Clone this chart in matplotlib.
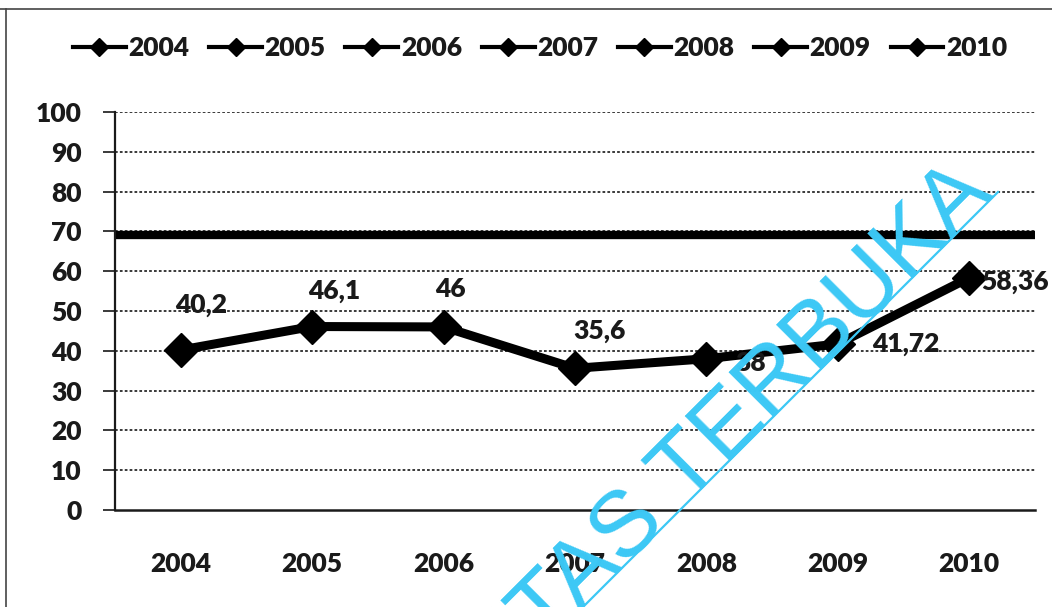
import matplotlib
matplotlib.use("Agg")
import matplotlib.pyplot as plt
from matplotlib.lines import Line2D

# Data
years = ["2004", "2005", "2006", "2007", "2008", "2009", "2010"]
values = [40.2, 46.1, 46.0, 35.6, 38.0, 41.72, 58.36]
target = 69
y_ticks = [0, 10, 20, 30, 40, 50, 60, 70, 80, 90, 100]

W, H, DPI = 1052, 607, 100
fig = plt.figure(figsize=(W / DPI, H / DPI), dpi=DPI)
fig.patch.set_facecolor("white")

FONT = "Lato"
ax = fig.add_axes([115 / W, 1 - 510 / H, (1035 - 115) / W, (510 - 112) / H])
x = list(range(len(years)))

# horizontal gridlines
for t in y_ticks[1:]:
    ax.axhline(t, color="#2a2a2a", lw=1.3, ls=(0, (1.5, 1.2)), zorder=1)

# target level
ax.axhline(target, color="black", lw=6, zorder=2)

# main series
ax.plot(x, values, color="black", lw=6.5, marker="D", ms=17,
        solid_joinstyle="round", zorder=3)

def fmt(v):
    return f"{v:g}".replace(".", ",")

# label placement (pixels): above-centred for first four, right for the rest
offsets = [(20, 45, "center"), (22, 36, "center"), (7, 38, "center"),
           (24, 37, "center"), (29, -4, "left"), (34, 0, "left"),
           (12, -4, "left")]
for xi, v, (dx, dy, ha) in zip(x, values, offsets):
    ax.annotate(fmt(v), (xi, v), xytext=(dx * 72 / DPI, dy * 72 / DPI),
                textcoords="offset points", ha=ha, va="center",
                fontsize=19, fontweight="heavy", family=FONT,
                color="#1a1a1a", zorder=4)

ax.set_xlim(-0.5, len(years) - 0.5)
ax.set_ylim(0, 100)
ax.set_yticks(y_ticks)
ax.set_xticks(x)
ax.set_xticklabels(years)
for lab in ax.get_xticklabels() + ax.get_yticklabels():
    lab.set_fontsize(19)
    lab.set_fontweight("heavy")
    lab.set_family(FONT)
    lab.set_color("#1a1a1a")
ax.tick_params(axis="y", direction="out", length=9, width=1.3, pad=15,
               color="#2a2a2a")
ax.tick_params(axis="x", length=0, pad=30)

for side in ("top", "right"):
    ax.spines[side].set_visible(False)
ax.spines["left"].set_linewidth(1.6)
ax.spines["bottom"].set_linewidth(1.8)
ax.spines["left"].set_color("#1a1a1a")
ax.spines["bottom"].set_color("#1a1a1a")

# legend: one entry per year
handles = [Line2D([], [], color="black", lw=3, marker="D", ms=9) for _ in years]
leg = fig.legend(handles, years, loc="center", bbox_to_anchor=(540 / W, 1 - 48 / H),
                 ncol=len(years), frameon=False, handlelength=2.0,
                 handletextpad=0.1, columnspacing=0.75,
                 prop={"family": FONT, "weight": "heavy", "size": 19})
for t in leg.get_texts():
    t.set_color("#1a1a1a")

# page frame lines
fig.add_artist(Line2D([0, 1], [1 - 9 / H, 1 - 9 / H], transform=fig.transFigure,
                      color="#444444", lw=1.2))
fig.add_artist(Line2D([6 / W, 6 / W], [0, 1 - 9 / H], transform=fig.transFigure,
                      color="#444444", lw=1.2))

# watermark
wm_color = "#3cc8f5"
fig.text(995 / W, 1 - 196 / H, "UNIVERSITAS TERBUKA", rotation=45,
         rotation_mode="anchor", ha="right", va="baseline",
         fontsize=67, family="Liberation Sans", color=wm_color, zorder=10)
fig.add_artist(Line2D([570 / W, 998 / W], [1 - 620 / H, 1 - 192 / H],
                      transform=fig.transFigure, color=wm_color, lw=1.6,
                      zorder=10))

fig.savefig("out.png", dpi=DPI, facecolor="white")
